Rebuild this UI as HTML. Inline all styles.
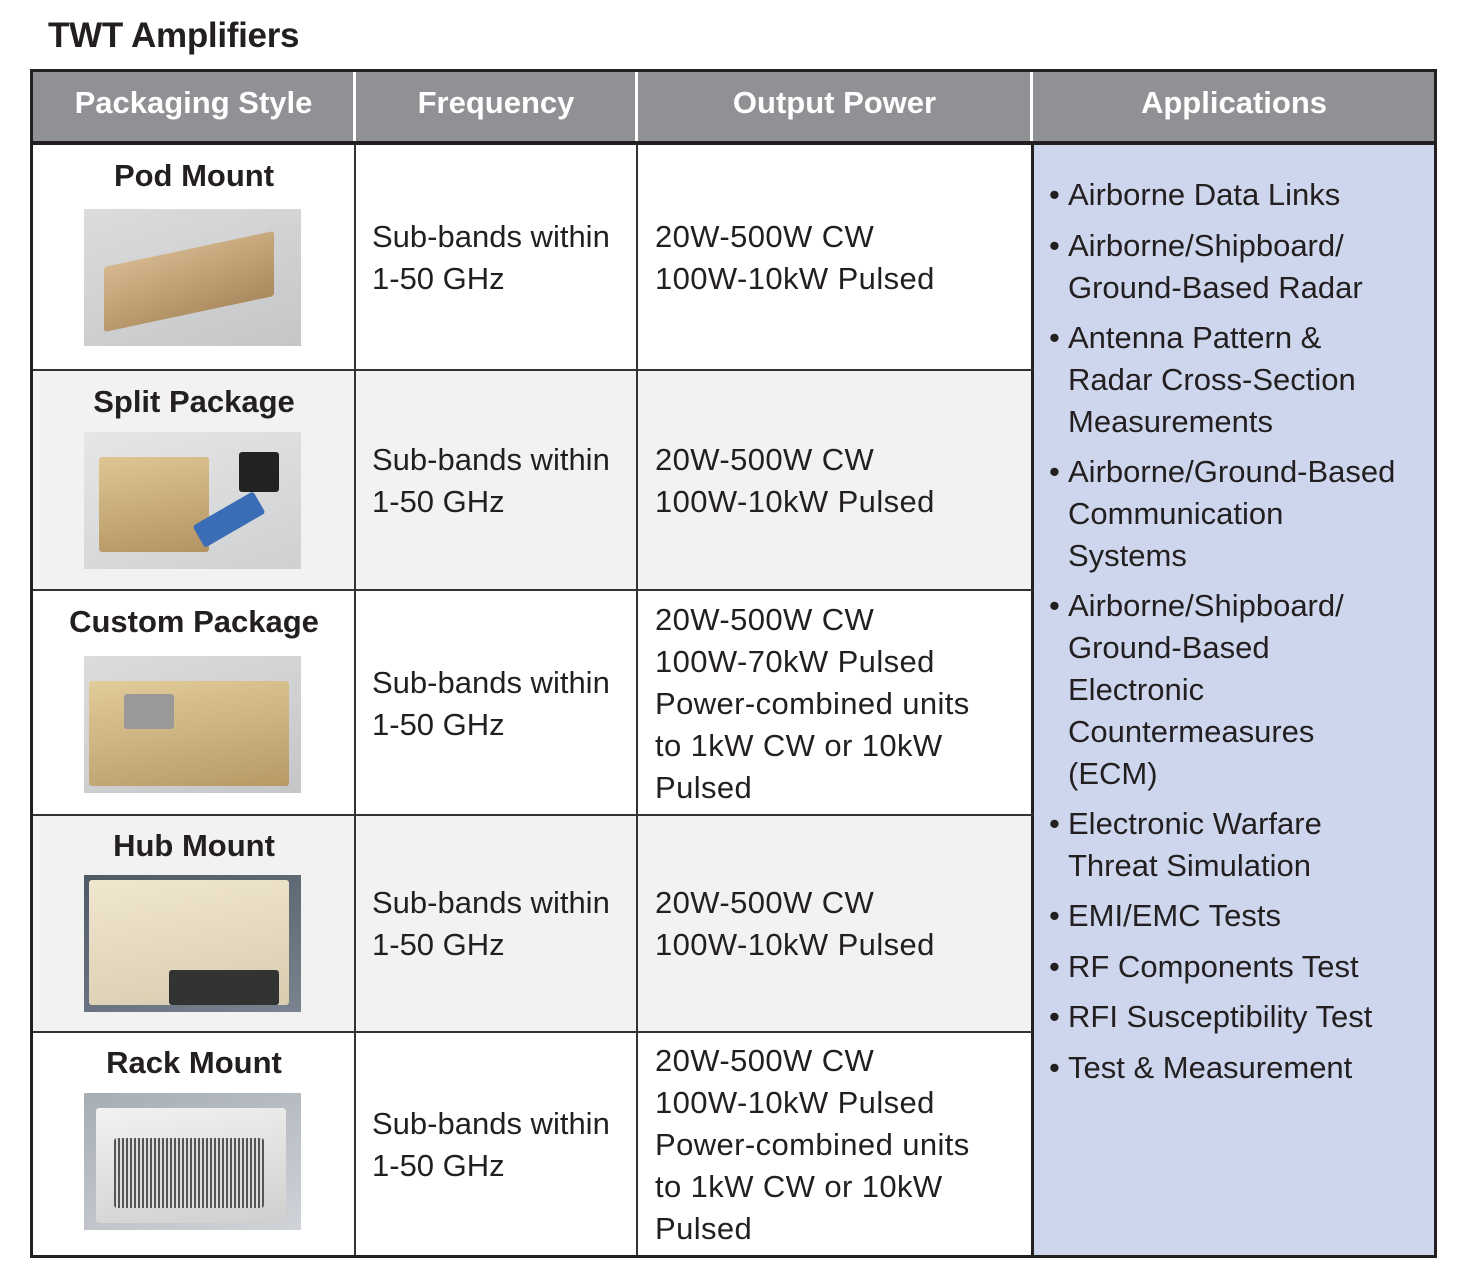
<!DOCTYPE html>
<html><head><meta charset="utf-8"><style>
*{margin:0;padding:0;box-sizing:border-box}
body{width:1465px;height:1280px;background:#fff;position:relative;font-family:"Liberation Sans",Arial,sans-serif;color:#231f20;overflow:hidden}
.a{position:absolute}
.t{font-size:31px;line-height:42px;white-space:nowrap}
.o{letter-spacing:0.4px}
.h{font-size:31px;font-weight:bold;color:#fff;text-align:center;line-height:40px}
.n{font-size:31px;font-weight:bold;text-align:center;width:322px;left:33px;line-height:40px}
.img{position:absolute;left:84px;width:217px;height:137px;background:linear-gradient(160deg,#dcdcdc,#c4c6c8)}
.box{position:absolute;border-radius:3px}
.ap{position:absolute;left:1068px;font-size:31px;line-height:42px;white-space:nowrap}
.ap::before{content:"•";position:absolute;left:-19px;top:0}
</style></head><body>
<div class="a" style="left:48px;top:16px;font-size:35px;font-weight:bold;line-height:40px;letter-spacing:-0.3px">TWT Amplifiers</div>
<div class="a" style="left:33px;top:370px;width:1000px;height:220px;background:#f2f2f2"></div>
<div class="a" style="left:33px;top:815px;width:1000px;height:217px;background:#f2f2f2"></div>
<div class="a" style="left:1033px;top:144px;width:402px;height:1112px;background:#cdd6ec"></div>
<div class="a" style="left:30px;top:69px;width:1407px;height:75px;background:#8f9194"></div>
<div class="a" style="left:353px;top:72px;width:3px;height:70px;background:#fff"></div>
<div class="a" style="left:635px;top:72px;width:3px;height:70px;background:#fff"></div>
<div class="a" style="left:1030px;top:72px;width:3px;height:70px;background:#fff"></div>
<div class="a" style="left:30px;top:141px;width:1407px;height:4px;background:#231f20"></div>
<div class="a" style="left:354px;top:144px;width:2px;height:1112px;background:#333"></div>
<div class="a" style="left:636px;top:144px;width:2px;height:1112px;background:#333"></div>
<div class="a" style="left:1031px;top:144px;width:3px;height:1112px;background:#231f20"></div>
<div class="a" style="left:33px;top:369px;width:1000px;height:2px;background:#333"></div>
<div class="a" style="left:33px;top:589px;width:1000px;height:2px;background:#333"></div>
<div class="a" style="left:33px;top:814px;width:1000px;height:2px;background:#333"></div>
<div class="a" style="left:33px;top:1031px;width:1000px;height:2px;background:#333"></div>
<div class="a" style="left:30px;top:69px;width:1407px;height:1189px;border:3px solid #231f20"></div>
<div class="a h" style="left:33px;top:83px;width:321px">Packaging Style</div>
<div class="a h" style="left:356px;top:83px;width:280px">Frequency</div>
<div class="a h" style="left:638px;top:83px;width:393px">Output Power</div>
<div class="a h" style="left:1033px;top:83px;width:402px">Applications</div>
<div class="a n" style="top:156px">Pod Mount</div>
<div class="a n" style="top:382px">Split Package</div>
<div class="a n" style="top:602px">Custom Package</div>
<div class="a n" style="top:826px">Hub Mount</div>
<div class="a n" style="top:1043px">Rack Mount</div>
<div class="img" style="top:209px"><div class="box" style="left:20px;top:40px;width:170px;height:65px;background:linear-gradient(170deg,#d6b88e,#a98a5e);transform:skewY(-12deg)"></div></div>
<div class="img" style="top:432px;background:linear-gradient(160deg,#e6e6e6,#cfd0d2)"><div class="box" style="left:15px;top:25px;width:110px;height:95px;background:linear-gradient(170deg,#e0c594,#b39463)"></div><div class="box" style="left:110px;top:75px;width:70px;height:25px;background:#3a6db5;transform:rotate(-30deg)"></div><div class="box" style="left:155px;top:20px;width:40px;height:40px;background:#222"></div></div>
<div class="img" style="top:656px"><div class="box" style="left:5px;top:25px;width:200px;height:105px;background:linear-gradient(170deg,#e2cc9a,#b79a66)"></div><div class="box" style="left:40px;top:38px;width:50px;height:35px;background:#999"></div></div>
<div class="img" style="top:875px;background:linear-gradient(160deg,#4e5a66,#7a8390)"><div class="box" style="left:5px;top:5px;width:200px;height:125px;background:linear-gradient(170deg,#f1e7cf,#d8ccb0)"></div><div class="box" style="left:85px;top:95px;width:110px;height:35px;background:#333"></div></div>
<div class="img" style="top:1093px;background:linear-gradient(160deg,#a7adb5,#d0d3d8)"><div class="box" style="left:12px;top:15px;width:190px;height:115px;background:linear-gradient(170deg,#f2f2f2,#cfcfcf)"></div><div class="box" style="left:30px;top:45px;width:150px;height:70px;background:repeating-linear-gradient(90deg,#555 0 2px,#ddd 2px 4px)"></div></div>
<div class="a t" style="left:372px;top:216px">Sub-bands within<br>1-50 GHz</div>
<div class="a t" style="left:372px;top:439px">Sub-bands within<br>1-50 GHz</div>
<div class="a t" style="left:372px;top:662px">Sub-bands within<br>1-50 GHz</div>
<div class="a t" style="left:372px;top:882px">Sub-bands within<br>1-50 GHz</div>
<div class="a t" style="left:372px;top:1103px">Sub-bands within<br>1-50 GHz</div>
<div class="a t o" style="left:655px;top:216px">20W-500W CW<br>100W-10kW Pulsed</div>
<div class="a t o" style="left:655px;top:439px">20W-500W CW<br>100W-10kW Pulsed</div>
<div class="a t o" style="left:655px;top:599px">20W-500W CW<br>100W-70kW Pulsed<br>Power-combined units<br>to 1kW CW or 10kW<br>Pulsed</div>
<div class="a t o" style="left:655px;top:882px">20W-500W CW<br>100W-10kW Pulsed</div>
<div class="a t o" style="left:655px;top:1040px">20W-500W CW<br>100W-10kW Pulsed<br>Power-combined units<br>to 1kW CW or 10kW<br>Pulsed</div>
<div class="ap" style="top:174px">Airborne Data Links</div>
<div class="ap" style="top:225px">Airborne/Shipboard/<br>Ground-Based Radar</div>
<div class="ap" style="top:317px">Antenna Pattern &amp;<br>Radar Cross-Section<br>Measurements</div>
<div class="ap" style="top:451px">Airborne/Ground-Based<br>Communication<br>Systems</div>
<div class="ap" style="top:585px">Airborne/Shipboard/<br>Ground-Based<br>Electronic<br>Countermeasures<br>(ECM)</div>
<div class="ap" style="top:803px">Electronic Warfare<br>Threat Simulation</div>
<div class="ap" style="top:895px">EMI/EMC Tests</div>
<div class="ap" style="top:946px">RF Components Test</div>
<div class="ap" style="top:996px">RFI Susceptibility Test</div>
<div class="ap" style="top:1047px">Test &amp; Measurement</div>
</body></html>
